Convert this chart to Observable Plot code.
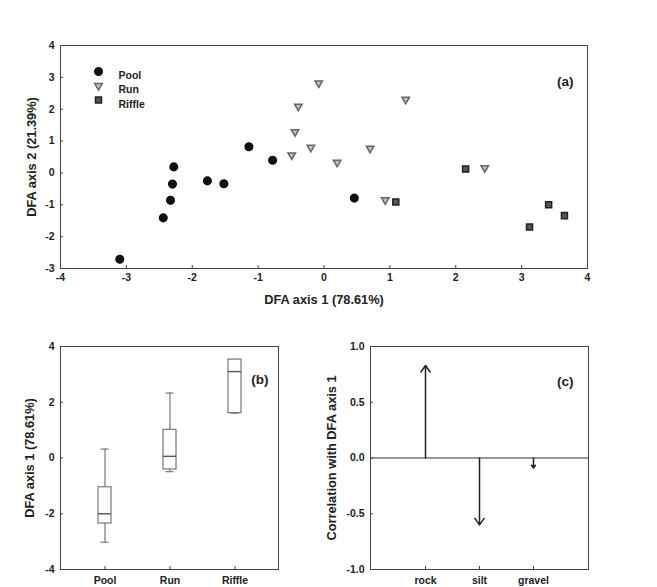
<!DOCTYPE html>
<html>
<head>
<meta charset="utf-8">
<script src="https://cdn.jsdelivr.net/npm/d3@7"></script>
<script src="https://cdn.jsdelivr.net/npm/@observablehq/plot@0.6"></script>
<style>
  html, body { margin: 0; padding: 0; background: #fff; }
  #wrap { position: relative; width: 657px; height: 587px; background: #fff; overflow: hidden; }
  #wrap > div, #wrap > svg { position: absolute; }
  svg { font-family: "Liberation Sans", Arial, sans-serif; font-weight: bold; overflow: visible; }
</style>
</head>
<body>
<div id="wrap"></div>
<script>
// ---------- data ----------
const seriesNames = ["Pool", "Run", "Riffle"];
const poolX = [-3.10, -2.44, -2.33, -2.30, -2.28, -1.77, -1.52, -1.14, -0.78, 0.46];
const poolY = [-2.71, -1.41, -0.86, -0.35, 0.19, -0.25, -0.34, 0.82, 0.40, -0.79];
const runX = [-0.08, -0.39, -0.44, -0.49, -0.20, 0.20, 1.24, 0.70, 2.44, 0.93];
const runY = [2.82, 2.09, 1.29, 0.56, 0.80, 0.33, 2.31, 0.77, 0.16, -0.85];
const riffleX = [2.15, 1.09, 3.41, 3.65, 3.12];
const riffleY = [0.12, -0.91, -1.00, -1.34, -1.70];

const boxGroups = ["Pool", "Run", "Riffle"];
const whiskerLow = [-3.02, -0.49, 1.61];
const q1 = [-2.35, -0.41, 1.61];
const median = [-2.00, 0.06, 3.10];
const q3 = [-1.05, 1.01, 3.53];
const whiskerHigh = [0.32, 2.33, 3.53];

const variables = ["rock", "silt", "gravel"];
const correlations = [0.83, -0.60, -0.09];

const ticksAX = [-4, -3, -2, -1, 0, 1, 2, 3, 4];
const ticksAY = [-3, -2, -1, 0, 1, 2, 3, 4];
const ticksBY = [-4, -2, 0, 2, 4];
const ticksCY = [-1, -0.5, 0, 0.5, 1];

// ---------- styles ----------
const frameColor = "#444";
const textColor = "#222";
const tickFont = 10.5;
const titleFont = 12.8;
const panelFont = 13.5;
const triangleDown = {
  draw(context, size) {
    const a = Math.sqrt(size * 4 / Math.sqrt(3));
    const h = a * Math.sqrt(3) / 2;
    context.moveTo(0, 2 * h / 3);
    context.lineTo(-a / 2, -h / 3);
    context.lineTo(a / 2, -h / 3);
    context.closePath();
  }
};
const seriesStyle = [
  {symbol: "circle", r: 3.8, fill: "#111", stroke: "#111"},
  {symbol: triangleDown, r: 2.8, fill: "#c0c0c0", stroke: "#666"},
  {symbol: "square", r: 3.4, fill: "#555", stroke: "#222"}
];

const wrap = document.getElementById("wrap");
function place(el, left, top) {
  el.style.left = left + "px";
  el.style.top = top + "px";
  wrap.appendChild(el);
}
const zip = (xs, ys) => xs.map((x, i) => ({x, y: ys[i]}));

// ---------- panel (a) ----------
const seriesData = [zip(poolX, poolY), zip(runX, runY), zip(riffleX, riffleY)];
const legendMarks = seriesNames.flatMap((name, i) => [
  Plot.dot([name], {frameAnchor: "top-left", dx: 38, dy: 26 + i * 14.3, ...seriesStyle[i]}),
  Plot.text([name], {frameAnchor: "top-left", dx: 58, dy: 26 + i * 14.3, text: d => d, textAnchor: "start", fontSize: 10.5, fill: textColor})
]);
const plotA = Plot.plot({
  width: 657, height: 320,
  marginLeft: 60, marginRight: 70, marginTop: 45, marginBottom: 52,
  x: {domain: [-4, 4]},
  y: {domain: [-3, 4]},
  style: {fontSize: "10px", color: textColor, background: "transparent"},
  marks: [
    Plot.frame({stroke: frameColor}),
    Plot.axisX({ticks: ticksAX, tickSize: -3, tickFormat: () => "", stroke: frameColor, label: null}),
    Plot.axisX({ticks: ticksAX, tickSize: 0, tickPadding: 5, tickFormat: d => String(d), label: null, fontSize: tickFont}),
    Plot.axisY({ticks: ticksAY, tickSize: -3, tickFormat: () => "", stroke: frameColor, label: null}),
    Plot.axisY({ticks: ticksAY, tickSize: 0, tickPadding: 6, tickFormat: d => String(d), label: null, fontSize: tickFont}),
    ...seriesData.map((data, i) => Plot.dot(data, {x: "x", y: "y", ...seriesStyle[i]})),
    ...legendMarks,
    Plot.text(["(a)"], {frameAnchor: "top-right", dx: -14, dy: 31, textAnchor: "end", fontSize: panelFont, text: d => d, fill: textColor}),
    Plot.text(["DFA axis 1 (78.61%)"], {frameAnchor: "bottom", dy: 35, textAnchor: "middle", text: d => d, fontSize: titleFont, fill: textColor}),
    Plot.text(["DFA axis 2 (21.39%)"], {frameAnchor: "left", dx: -29, rotate: -90, textAnchor: "middle", text: d => d, fontSize: titleFont, fill: textColor})
  ]
});
place(plotA, 0, 0);

// ---------- panel (b) ----------
const boxData = boxGroups.map((g, i) => ({g, lo: whiskerLow[i], q1: q1[i], med: median[i], q3: q3[i], hi: whiskerHigh[i]}));
const boxStroke = "#777";
const plotB = Plot.plot({
  width: 330, height: 267,
  marginLeft: 60, marginRight: 52, marginTop: 26, marginBottom: 18,
  x: {type: "band", domain: boxGroups, paddingInner: 0.8, paddingOuter: 0.57},
  y: {domain: [-4, 4]},
  style: {fontSize: "10px", color: textColor, background: "transparent"},
  marks: [
    Plot.frame({stroke: frameColor}),
    Plot.axisX({tickSize: -3, tickFormat: () => "", stroke: frameColor, label: null}),
    Plot.axisX({tickSize: 0, tickPadding: 7, label: null, fontSize: tickFont}),
    Plot.axisY({ticks: ticksBY, tickSize: -3, tickFormat: () => "", stroke: frameColor, label: null}),
    Plot.axisY({ticks: ticksBY, tickSize: 0, tickPadding: 6, tickFormat: d => String(d), label: null, fontSize: tickFont}),
    Plot.ruleX(boxData, {x: "g", y1: "q3", y2: "hi", stroke: boxStroke, strokeWidth: 1.2}),
    Plot.ruleX(boxData, {x: "g", y1: "lo", y2: "q1", stroke: boxStroke, strokeWidth: 1.2}),
    Plot.tickY(boxData, {x: "g", y: "hi", stroke: boxStroke, strokeWidth: 1.2, inset: 2.5}),
    Plot.tickY(boxData, {x: "g", y: "lo", stroke: boxStroke, strokeWidth: 1.2, inset: 2.5}),
    Plot.barY(boxData, {x: "g", y1: "q1", y2: "q3", fill: "white", stroke: boxStroke, strokeWidth: 1.2}),
    Plot.tickY(boxData, {x: "g", y: "med", stroke: "#555", strokeWidth: 1.4}),
    Plot.text(["(b)"], {frameAnchor: "top-right", dx: -10, dy: 28, textAnchor: "end", fontSize: panelFont, text: d => d, fill: textColor}),
    Plot.text(["DFA axis 1 (78.61%)"], {frameAnchor: "left", dx: -31, rotate: -90, textAnchor: "middle", text: d => d, fontSize: titleFont, fill: textColor})
  ]
});
place(plotB, 0, 320);

// ---------- panel (c) ----------
const corrData = variables.map((v, i) => ({v, r: correlations[i]}));
const plotC = Plot.plot({
  width: 357, height: 267,
  marginLeft: 70, marginRight: 69, marginTop: 26, marginBottom: 18,
  x: {type: "point", domain: variables, padding: 1},
  y: {domain: [-1, 1]},
  style: {fontSize: "10px", color: textColor, background: "transparent"},
  marks: [
    Plot.frame({stroke: frameColor}),
    Plot.ruleY([0], {stroke: "#333", strokeWidth: 1}),
    Plot.axisX({tickSize: -3, tickFormat: () => "", stroke: frameColor, label: null}),
    Plot.axisX({tickSize: 0, tickPadding: 7, label: null, fontSize: tickFont}),
    Plot.axisY({ticks: ticksCY, tickSize: -3, tickFormat: () => "", stroke: frameColor, label: null}),
    Plot.axisY({ticks: ticksCY, tickSize: 0, tickPadding: 6, tickFormat: d => d.toFixed(1), label: null, fontSize: tickFont}),
    Plot.arrow(corrData, {x1: "v", x2: "v", y1: () => 0, y2: "r", stroke: "#222", strokeWidth: 1.5, headLength: 8, headAngle: 70}),
    Plot.text(["(c)"], {frameAnchor: "top-right", dx: -15, dy: 30, textAnchor: "end", fontSize: panelFont, text: d => d, fill: textColor}),
    Plot.text(["Correlation with DFA axis 1"], {frameAnchor: "left", dx: -39, rotate: -90, textAnchor: "middle", text: d => d, fontSize: titleFont, fill: textColor})
  ]
});
place(plotC, 300, 320);
</script>
</body>
</html>
